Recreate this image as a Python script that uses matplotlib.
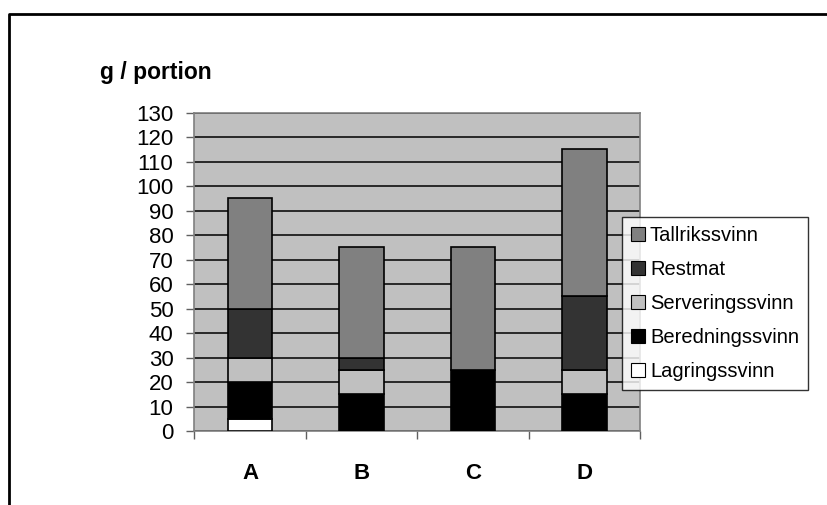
import matplotlib
matplotlib.use('Agg')
import matplotlib.pyplot as plt
from matplotlib.lines import Line2D
from matplotlib.patches import Patch
import numpy as np

plt.rcParams['font.family'] = ['Liberation Sans', 'DejaVu Sans']

# Waste per portion (g), by kitchen
kitchens = ['A', 'B', 'C', 'D']
lagring = [5, 0, 0, 0]
beredning = [15, 15, 25, 15]
servering = [10, 10, 0, 10]
restmat = [20, 5, 0, 30]
tallrik = [45, 45, 50, 60]

series = [
    ('Lagringssvinn', lagring, '#ffffff'),
    ('Beredningssvinn', beredning, '#000000'),
    ('Serveringssvinn', servering, '#c0c0c0'),
    ('Restmat', restmat, '#333333'),
    ('Tallrikssvinn', tallrik, '#808080'),
]

fig = plt.figure(figsize=(8.28, 5.05), dpi=100)
ax = fig.add_axes([0.2347, 0.1465, 0.5383, 0.6303])
ax.set_facecolor('#c0c0c0')

x = np.arange(len(kitchens))
bottom = np.zeros(len(kitchens))
for name, vals, col in series:
    vals = np.array(vals, dtype=float)
    ax.bar(x, vals, 0.4, bottom=bottom, color=col, edgecolor='black',
           linewidth=1.2, zorder=3)
    bottom += vals

ax.set_ylim(0, 130)
ax.set_xlim(-0.5, 3.5)
ax.set_yticks(range(0, 131, 10))
ax.yaxis.grid(True, color='black', linewidth=1.1, zorder=1)
ax.set_axisbelow(True)
ax.tick_params(axis='y', labelsize=16, length=6, width=1, direction='out',
               pad=9, color='#606060')

# category boundaries carry the ticks, centres carry the labels
ax.set_xticks(np.arange(-0.5, 4, 1))
ax.set_xticklabels([])
ax.set_xticks(x, minor=True)
ax.set_xticklabels(kitchens, minor=True, fontweight='bold', fontsize=16)
ax.tick_params(axis='x', which='major', length=6, width=1, direction='out',
               color='#606060')
ax.tick_params(axis='x', which='minor', length=0, pad=23)

for s in ax.spines.values():
    s.set_color('#808080')
    s.set_linewidth(1.2)

fig.text(100 / 828, 1 - 72 / 505, 'g / portion', fontsize=16.5, fontweight='bold',
         va='center', ha='left')

handles = [Patch(facecolor=col, edgecolor='black', linewidth=0.8)
           for name, vals, col in series[::-1]]
labels = [name for name, vals, col in series[::-1]]
leg = fig.legend(handles, labels, loc='upper left',
                 bbox_to_anchor=(621.7 / 828, 1 - 217.3 / 505),
                 fontsize=14.5, frameon=True, fancybox=False, borderaxespad=0,
                 handlelength=0.7, handleheight=0.7, handletextpad=0.25,
                 labelspacing=0.74, borderpad=0.45)
leg.get_frame().set_edgecolor('black')
leg.get_frame().set_linewidth(1)

# outer chart frame
fig.add_artist(Line2D([9 / 828, 9 / 828, 1], [0, 1 - 14 / 505, 1 - 14 / 505],
                      transform=fig.transFigure, color='black', linewidth=2))

plt.savefig('out.png', dpi=100)
